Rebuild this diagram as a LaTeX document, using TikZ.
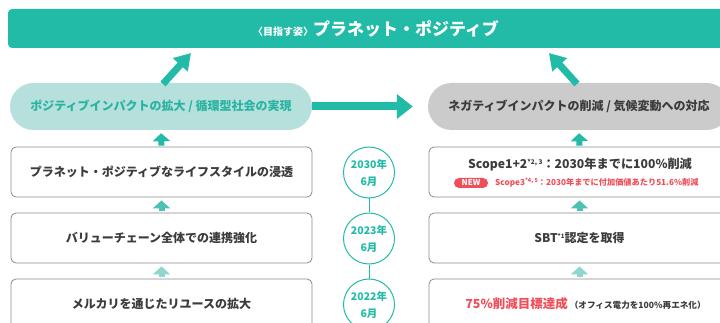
\documentclass[tikz,border=0pt]{standalone}
\usepackage{fontspec}
\setmainfont{Noto Sans CJK JP}
\usetikzlibrary{arrows.meta}
\definecolor{tealmain}{HTML}{22BBA8}
\definecolor{tealmid}{HTML}{4DC2B2}
\definecolor{teallight}{HTML}{8FD6CD}
\definecolor{pillfill}{HTML}{B5E0DB}
\definecolor{pilltext}{HTML}{2AB3A3}
\definecolor{grayfill}{HTML}{CBCBCB}
\definecolor{darktext}{HTML}{3C3C3C}
\definecolor{boxline}{HTML}{8A8A8A}
\definecolor{redtext}{HTML}{EE4F5A}
\tikzset{
  topbar/.style={fill=tealmain, rounded corners=4pt, minimum width=736pt, minimum height=39pt, inner sep=0pt, text=white},
  lpill/.style={fill=pillfill, rounded corners=23.5pt, minimum width=302pt, minimum height=47pt, inner sep=0pt, text=pilltext, font=\fontsize{12}{14}\selectfont\bfseries},
  rpill/.style={fill=grayfill, rounded corners=23.5pt, minimum width=302pt, minimum height=47pt, inner sep=0pt, text=darktext, font=\fontsize{12}{14}\selectfont\bfseries},
  stepbox/.style={draw=boxline, line width=0.8pt, fill=white, rounded corners=5pt, minimum width=301pt, minimum height=50pt, inner sep=0pt, text=darktext, font=\fontsize{12}{14}\selectfont\bfseries},
  datecirc/.style={draw=tealmain, line width=1pt, circle, minimum size=51pt, inner sep=0pt, fill=white, text=tealmain, align=center, font=\fontsize{10.5}{17}\selectfont\bfseries},
  fatarrow/.style={draw=tealmain, line width=7pt, -{Triangle[length=16pt,width=19pt]}},
  sidearrow/.style={draw=tealmain, line width=8pt, -{Triangle[length=16pt,width=24pt]}},
  uparrow/.style={line width=6pt, -{Triangle[length=8pt,width=17pt]}},
  badge/.style={fill=redtext, rounded corners=5pt, minimum width=34pt, minimum height=10pt, inner sep=0pt, text=white, font=\fontsize{8}{9}\selectfont\bfseries},
}
\begin{document}
\begin{tikzpicture}[x=1pt,y=-1pt]
\clip (0,0) rectangle (720,323);
\fill[white] (0,0) rectangle (720,323);

% goal bar
\node[topbar] (goal) at (376,28.5) {{\fontsize{10}{11}\selectfont\bfseries 〈目指す姿〉}{\fontsize{17}{20}\selectfont\bfseries プラネット・ポジティブ}};

% pills
\node[lpill] (pos) at (161,106.5) {ポジティブインパクトの拡大 / 循環型社会の実現};
\node[rpill] (neg) at (579,106.5) {ネガティブインパクトの削減 / 気候変動への対応};

% left boxes
\node[stepbox] (l1) at (161.5,172) {プラネット・ポジティブなライフスタイルの浸透};
\node[stepbox] (l2) at (161.5,238) {バリューチェーン全体での連携強化};
\node[stepbox] (l3) at (161.5,304) {メルカリを通じたリユースの拡大};

% right boxes
\node[stepbox] (r1) at (579.5,172) {};
\node[stepbox] (r2) at (579.5,238) {SBT\raisebox{4pt}{\fontsize{6}{6}\selectfont *1}認定を取得};
\node[stepbox] (r3) at (579.5,304) {\hspace*{12pt}{\fontsize{12.5}{14}\selectfont\color{redtext}75\%削減目標達成}\,{\fontsize{8.6}{10}\selectfont （オフィス電力を100\%再エネ化）}};

\node[text=darktext, font=\fontsize{12.2}{14}\selectfont\bfseries, inner sep=0pt] (r1a) at (580,165) {Scope1+2\raisebox{4.5pt}{\fontsize{6.5}{7}\selectfont *2, 3}：2030年までに100\%削減};
\node[badge] (new) at (471,183) {NEW};
\node[text=redtext, font=\fontsize{8.2}{9}\selectfont\bfseries, inner sep=0pt, anchor=west] (r1b) at (495,183) {Scope3\raisebox{3pt}{\fontsize{5.5}{6}\selectfont *4, 5}：2030年までに付加価値あたり51.6\%削減};

% timeline
\node[datecirc] (c1) at (369,172.5) {2030年\\6月};
\node[datecirc] (c2) at (369,238.5) {2023年\\6月};
\node[datecirc] (c3) at (369,304.5) {2022年\\6月};
\draw[tealmain, line width=1pt] (c1.south) -- (c2.north);
\draw[tealmain, line width=1pt] (c2.south) -- (c3.north);

% diagonal arrows
\coordinate (lt) at (163,84);
\coordinate (lh) at (191,53);
\coordinate (rt) at (577,84);
\coordinate (rh) at (549,53);
\draw[fatarrow] (lt) -- (lh);
\draw[fatarrow] (rt) -- (rh);

% horizontal arrow
\draw[sidearrow, shorten >=15pt] (pos.east) -- (neg.west);

% up arrows
\draw[uparrow, tealmain, shorten >=3pt, shorten <=1pt] (l1.north) -- (pos.south);
\draw[uparrow, tealmid, shorten >=3pt, shorten <=2pt] (l2.north) -- (l1.south);
\draw[uparrow, teallight, shorten >=3pt, shorten <=2pt] (l3.north) -- (l2.south);
\draw[uparrow, tealmain, shorten >=3pt, shorten <=1pt] (r1.north) -- (neg.south);
\draw[uparrow, tealmid, shorten >=3pt, shorten <=2pt] (r2.north) -- (r1.south);
\draw[uparrow, teallight, shorten >=3pt, shorten <=2pt] (r3.north) -- (r2.south);
\end{tikzpicture}
\end{document}
